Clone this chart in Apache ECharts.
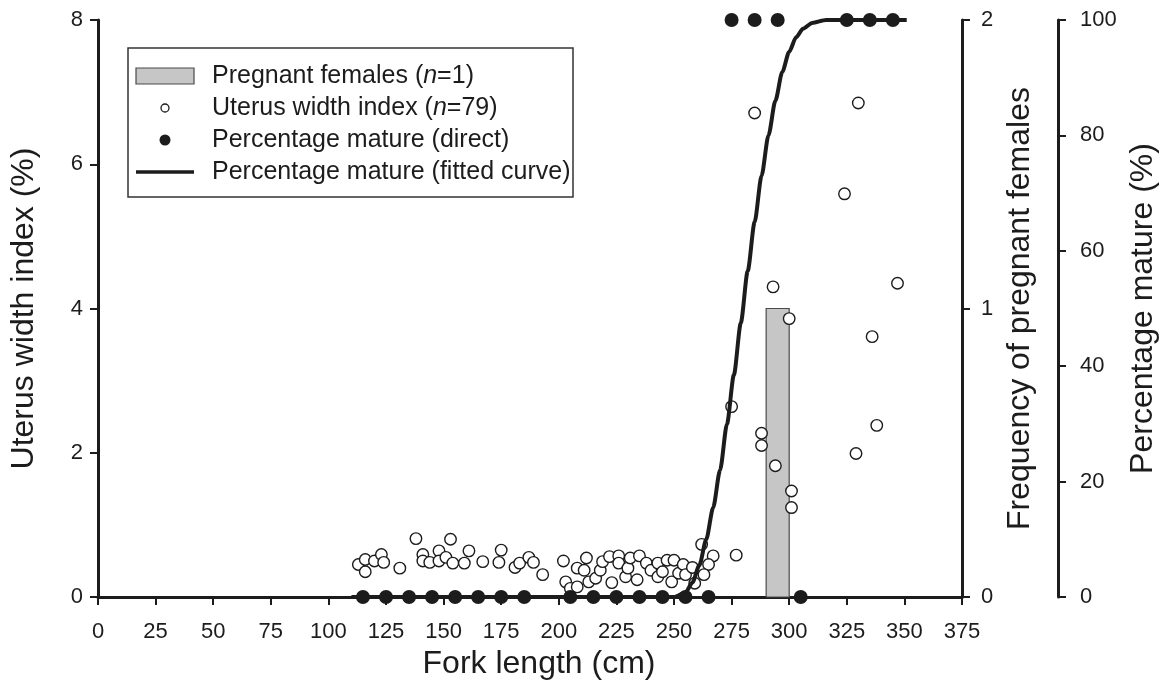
<!DOCTYPE html>
<html>
<head>
<meta charset="utf-8">
<script src="https://cdn.jsdelivr.net/npm/echarts@6/dist/echarts.min.js"></script>
<style>
  html, body { margin: 0; padding: 0; background: #ffffff; }
  #chart { width: 1171px; height: 693px; }
</style>
</head>
<body>
<div id="chart"></div>
<script>
// Uterus width index (%) against fork length (cm), one entry per female
const uterusLength = [
  285, 330, 324, 347, 293, 300, 336, 275, 338, 288, 288, 329, 294, 301, 301, 277,
  262, 267, 265, 263, 259,
  113, 116, 116, 120, 123, 124, 131, 138, 141, 141, 144, 148, 148, 151, 153, 154,
  159, 161, 167, 174, 175, 181, 183, 187, 189, 193,
  202, 203, 205, 208, 208, 211, 212, 213, 216, 218, 219, 222, 223, 226, 226, 229,
  230, 231, 234, 235, 238, 240, 243, 243, 245, 247, 249, 250, 252, 254, 255, 258
];
const uterusIndex = [
  6.71, 6.85, 5.59, 4.35, 4.30, 3.86, 3.61, 2.64, 2.38, 2.27, 2.10, 1.99, 1.82, 1.47, 1.24, 0.58,
  0.73, 0.57, 0.45, 0.31, 0.19,
  0.45, 0.52, 0.35, 0.50, 0.59, 0.48, 0.40, 0.81, 0.59, 0.50, 0.48, 0.64, 0.50, 0.55, 0.80, 0.47,
  0.47, 0.64, 0.49, 0.48, 0.65, 0.41, 0.47, 0.55, 0.48, 0.31,
  0.50, 0.21, 0.12, 0.40, 0.14, 0.37, 0.54, 0.21, 0.26, 0.37, 0.49, 0.56, 0.20, 0.57, 0.47, 0.28,
  0.40, 0.54, 0.24, 0.57, 0.47, 0.37, 0.47, 0.28, 0.35, 0.51, 0.21, 0.51, 0.33, 0.45, 0.31, 0.41
];

// Percentage mature per 10 cm length class (direct observation)
const matureLength = [115, 125, 135, 145, 155, 165, 175, 185, 205, 215, 225, 235, 245, 255, 265,
                      275, 285, 295, 305, 325, 335, 345];
const maturePct    = [0, 0, 0, 0, 0, 0, 0, 0, 0, 0, 0, 0, 0, 0, 0,
                      100, 100, 100, 0, 100, 100, 100];

// Fitted maturity ogive
const curveLength = [110, 250, 255, 258, 261, 264, 267, 270, 273, 276, 279, 282, 285, 288,
                     291, 294, 297, 300, 303, 306, 310, 316, 351];
const curvePct    = [0, 0, 0.8, 2.5, 5.5, 10, 15.5, 22, 30, 38.5, 47.5, 56.5, 65, 73,
                     80, 86, 91, 94.5, 97, 98.5, 99.5, 100, 100];

// Pregnant females per length class
const pregnantFrom  = [290];
const pregnantTo    = [300];
const pregnantCount = [1];

// Axis ticks
const lengthTicks = { min: 0, max: 375, interval: 25 };
const uterusTicks = { min: 0, max: 8, interval: 2 };
const freqTicks   = { min: 0, max: 2, interval: 1 };
const pctTicks    = { min: 0, max: 100, interval: 20 };

const INK = '#1c1c1c';
const SANS = "'Liberation Sans', Arial, Helvetica, sans-serif";

const uterusData = uterusLength.map((x, i) => [x, uterusIndex[i]]);
const matureData = matureLength.map((x, i) => [x, maturePct[i]]);
const curveData  = curveLength.map((x, i) => [x, curvePct[i]]);
const pregnantData = pregnantFrom.map((x, i) => [x, pregnantTo[i], pregnantCount[i]]);

const axisLine = { show: true, lineStyle: { color: INK, width: 3 } };
const axisTick = { show: true, length: 8, lineStyle: { color: INK, width: 2 } };
const tickLabel = { color: INK, fontFamily: SANS, fontSize: 22 };
const titleStyle = { color: INK, fontFamily: SANS, fontSize: 32 };

function yAxisBase(t) {
  return {
    type: 'value', min: t.min, max: t.max, interval: t.interval,
    nameLocation: 'middle', nameTextStyle: titleStyle,
    axisLine: axisLine, axisTick: axisTick, splitLine: { show: false },
  };
}

// Legend drawn as a framed block of icons and labels
const legendRows = [
  { label: 'Pregnant females (', italic: 'n', rest: '=1)', icon: 'bar' },
  { label: 'Uterus width index (', italic: 'n', rest: '=79)', icon: 'open' },
  { label: 'Percentage mature (direct)', icon: 'dot' },
  { label: 'Percentage mature (fitted curve)', icon: 'line' }
];
const LEG = { x: 128, y: 48, w: 445, h: 149, rowTop: 76, rowGap: 32, iconX: 136, iconW: 58, textX: 212, font: 25 };

function legendGraphic() {
  const els = [{
    type: 'rect', shape: { x: LEG.x, y: LEG.y, width: LEG.w, height: LEG.h },
    style: { fill: '#fff', stroke: '#333', lineWidth: 1.5 }, z: 10
  }];
  legendRows.forEach((r, i) => {
    const cy = LEG.rowTop + i * LEG.rowGap;
    const cx = LEG.iconX + LEG.iconW / 2;
    if (r.icon === 'bar') {
      els.push({ type: 'rect', shape: { x: LEG.iconX, y: cy - 8, width: LEG.iconW, height: 16 },
        style: { fill: '#c6c6c6', stroke: '#4a4a4a', lineWidth: 1.2 }, z: 11 });
    } else if (r.icon === 'open') {
      els.push({ type: 'circle', shape: { cx: cx, cy: cy, r: 4 },
        style: { fill: '#fff', stroke: INK, lineWidth: 1.3 }, z: 11 });
    } else if (r.icon === 'dot') {
      els.push({ type: 'circle', shape: { cx: cx, cy: cy, r: 5.5 },
        style: { fill: INK }, z: 11 });
    } else {
      els.push({ type: 'line', shape: { x1: LEG.iconX, y1: cy, x2: LEG.iconX + LEG.iconW, y2: cy },
        style: { stroke: INK, lineWidth: 3.5 }, z: 11 });
    }
    const rich = r.italic
      ? '{a|' + r.label + '}{i|' + r.italic + '}{a|' + r.rest + '}'
      : '{a|' + r.label + '}';
    els.push({
      type: 'text', x: LEG.textX, y: cy, z: 11,
      style: {
        text: rich, verticalAlign: 'middle', fill: INK,
        rich: {
          a: { fontFamily: SANS, fontSize: LEG.font, fill: INK },
          i: { fontFamily: SANS, fontSize: LEG.font, fontStyle: 'italic', fill: INK }
        }
      }
    });
  });
  return els;
}

const chart = echarts.init(document.getElementById('chart'), null, { renderer: 'canvas' });
chart.setOption({
  animation: false,
  backgroundColor: '#ffffff',
  grid: { left: 98, right: 209, top: 20, bottom: 96, containLabel: false },
  xAxis: {
    type: 'value', min: lengthTicks.min, max: lengthTicks.max, interval: lengthTicks.interval,
    name: 'Fork length (cm)', nameLocation: 'middle', nameGap: 48,
    nameTextStyle: Object.assign({ padding: [0, 0, 0, 18] }, titleStyle),
    axisLine: axisLine, axisTick: axisTick, splitLine: { show: false },
    axisLabel: Object.assign({ margin: 24 }, tickLabel)
  },
  yAxis: [
    Object.assign(yAxisBase(uterusTicks), {
      position: 'left', name: 'Uterus width index (%)', nameGap: 58,
      axisLabel: Object.assign({ margin: 15 }, tickLabel)
    }),
    Object.assign(yAxisBase(freqTicks), {
      position: 'right', name: 'Frequency of pregnant females', nameGap: 42,
      axisLabel: Object.assign({ margin: 19 }, tickLabel)
    }),
    Object.assign(yAxisBase(pctTicks), {
      position: 'right', offset: 96, name: 'Percentage mature (%)', nameGap: 68,
      axisLabel: Object.assign({ margin: 22 }, tickLabel)
    })
  ],
  series: [
    {
      name: 'Pregnant females', type: 'custom', yAxisIndex: 1, z: 1,
      data: pregnantData, encode: { x: [0, 1], y: 2 },
      renderItem: function (params, api) {
        const p0 = api.coord([api.value(0), 0]);
        const p1 = api.coord([api.value(1), api.value(2)]);
        return {
          type: 'rect',
          shape: { x: p0[0], y: p1[1], width: p1[0] - p0[0], height: p0[1] - p1[1] },
          style: { fill: '#c6c6c6', stroke: '#4a4a4a', lineWidth: 1.2 }
        };
      }
    },
    {
      name: 'Uterus width index', type: 'scatter', yAxisIndex: 0, z: 2, clip: false,
      data: uterusData, symbol: 'circle', symbolSize: 11.5,
      itemStyle: { color: '#ffffff', borderColor: INK, borderWidth: 1.4, opacity: 1 }
    },
    {
      name: 'Percentage mature (fitted curve)', type: 'line', yAxisIndex: 2, z: 3,
      data: curveData, showSymbol: false, symbol: 'none', smooth: 0.25, smoothMonotone: 'x',
      lineStyle: { color: INK, width: 4 }
    },
    {
      name: 'Percentage mature (direct)', type: 'scatter', yAxisIndex: 2, z: 4, clip: false,
      data: matureData, symbol: 'circle', symbolSize: 14,
      itemStyle: { color: INK, opacity: 1 }
    }
  ],
  graphic: legendGraphic()
});
</script>
</body>
</html>
